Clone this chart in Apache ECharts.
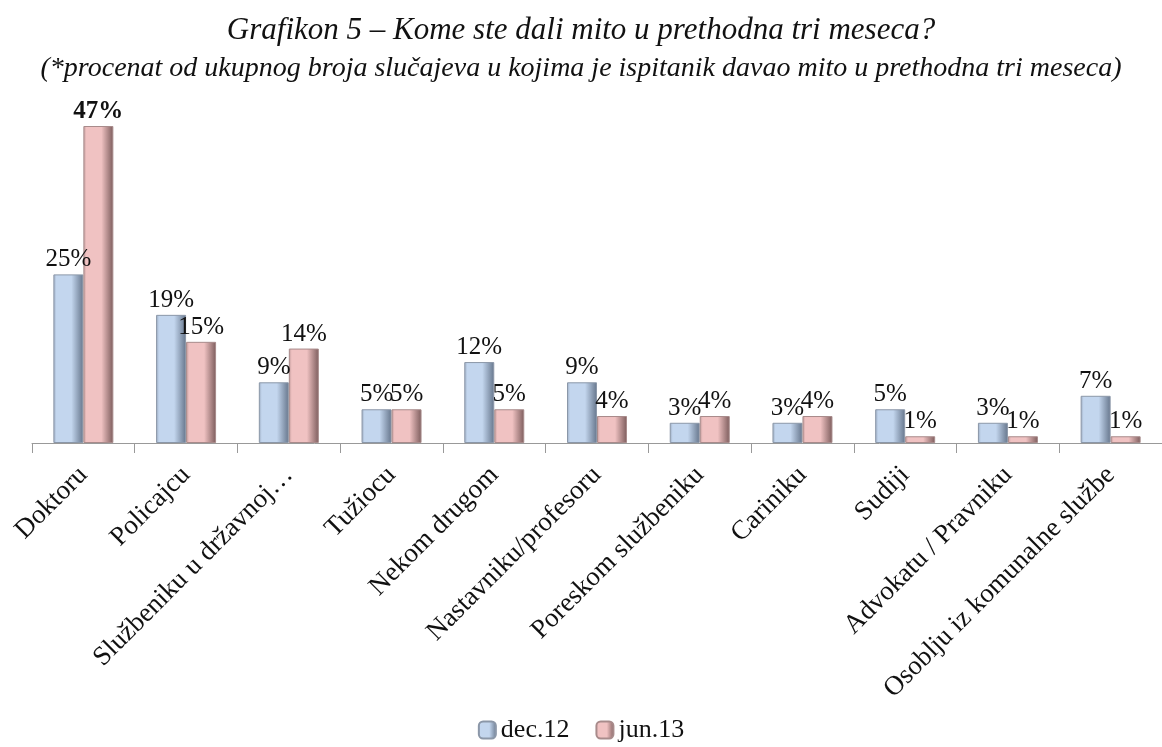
<!DOCTYPE html>
<html lang="sr">
<head>
	<meta charset="UTF-8">
	<title>Grafikon 5</title>
	<script src="https://cdn.jsdelivr.net/npm/echarts@6/dist/echarts.min.js"></script>
	<style>
		html,body{margin:0;padding:0;background:#fff;}
		#chart{width:1162px;height:747px;}
	</style>
</head>
<body>
<div id="chart"></div>
<script>
	// podaci
	var categories = ['Doktoru','Policajcu','Službeniku u državnoj…','Tužiocu','Nekom drugom','Nastavniku/profesoru','Poreskom službeniku','Cariniku','Sudiji','Advokatu / Pravniku','Osoblju iz komunalne službe'];
	var dec12 = [25,19,9,5,12,9,3,3,5,3,7];
	var jun13 = [47,15,14,5,5,4,4,4,1,1,1];
	var seriesNames = ['dec.12','jun.13'];

	var font = 'Liberation Serif';

	function grad(edge, mid, dark){
		return new echarts.graphic.LinearGradient(0,0,1,0,[
			{offset:0,color:edge},
			{offset:0.1,color:mid},
			{offset:0.6,color:mid},
			{offset:1,color:dark}
		]);
	}
	var blue = grad('#9aaac0','#c3d6ee','#66768c');
	var pink = grad('#c09a9a','#f0c2c2','#7c5c5c');

	function labelCfg(){
		return {
			show:true,
			position:'top',
			distance:2,
			fontFamily:font,
			fontSize:25,
			color:'#111',
			formatter:function(p){ return p.value + '%'; }
		};
	}

	var myChart = echarts.init(document.getElementById('chart'));
	var option = {
		animation:false,
		title:[{
			text:'Grafikon 5 – Kome ste dali mito u prethodna tri meseca?',
			left:'center',
			top:10,
			textStyle:{fontFamily:font,fontStyle:'italic',fontWeight:'normal',fontSize:31,color:'#111'}
		},{
			text:'(*procenat od ukupnog broja slučajeva u kojima je ispitanik davao mito u prethodna tri meseca)',
			left:'center',
			top:50,
			textStyle:{fontFamily:font,fontStyle:'italic',fontWeight:'normal',fontSize:28,color:'#111'}
		}],
		legend:{
			data:seriesNames,
			top:712,
			left:'center',
			itemWidth:17,
			itemHeight:17,
			itemGap:26,
			textStyle:{fontFamily:font,fontSize:26,color:'#111'}
		},
		grid:{left:32,right:-6,top:126,bottom:304},
		xAxis:{
			type:'category',
			data:categories,
			axisLine:{lineStyle:{color:'#999'}},
			axisTick:{show:true,length:10,lineStyle:{color:'#999'}},
			axisLabel:{
				rotate:45,
				interval:0,
				margin:28,
				fontFamily:font,
				fontSize:27,
				color:'#111'
			}
		},
		yAxis:{
			type:'value',
			min:0,
			max:47,
			show:false,
			splitLine:{show:false}
		},
		series:[{
			name:seriesNames[0],
			type:'bar',
			data:dec12,
			barWidth:30,
			barGap:'0%',
			itemStyle:{color:blue,borderColor:'#8b97a8',borderWidth:1},
			label:labelCfg()
		},{
			name:seriesNames[1],
			type:'bar',
			data:jun13.map(function(v,i){
				return i===0 ? {value:v,label:{fontWeight:'bold'}} : v;
			}),
			barWidth:30,
			barGap:'0%',
			itemStyle:{color:pink,borderColor:'#a88b8b',borderWidth:1},
			label:labelCfg()
		}]
	};
	myChart.setOption(option);
</script>
</body>
</html>
